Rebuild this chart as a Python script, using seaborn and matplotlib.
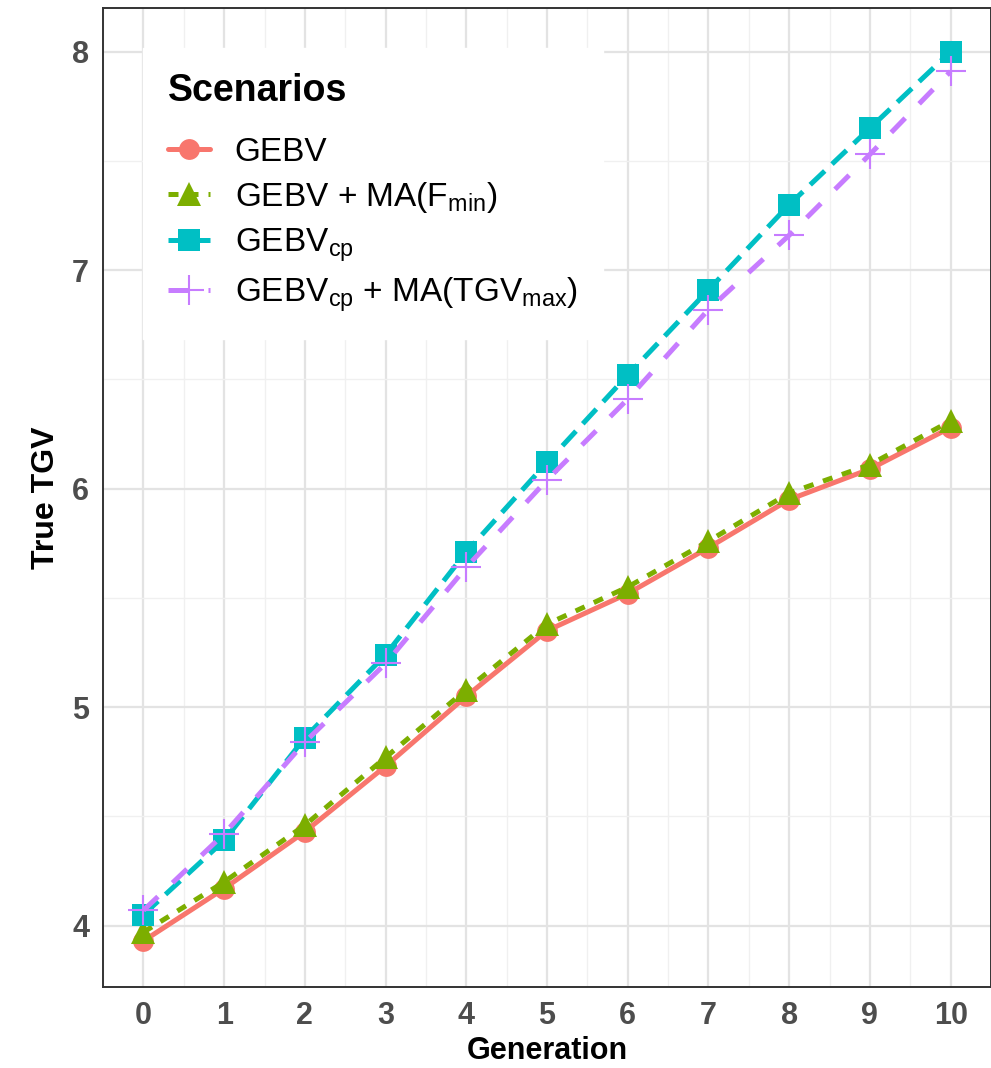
import numpy as np
import pandas as pd
import matplotlib
matplotlib.use("Agg")
import matplotlib.pyplot as plt
from matplotlib.lines import Line2D
from matplotlib.ticker import MultipleLocator
import seaborn as sns

# ==================== Data ====================
generation = list(range(11))
gebv = [3.93, 4.17, 4.43, 4.73, 5.05, 5.35, 5.52, 5.73, 5.95, 6.09, 6.28]
gebv_ma_fmin = [3.97, 4.20, 4.46, 4.77, 5.08, 5.38, 5.55, 5.76, 5.98, 6.11, 6.31]
gebv_cp = [4.05, 4.39, 4.86, 5.24, 5.71, 6.12, 6.52, 6.91, 7.30, 7.65, 8.00]
gebv_cp_ma_tgv = [4.07, 4.42, 4.84, 5.20, 5.64, 6.04, 6.41, 6.82, 7.16, 7.53, 7.91]

scenario_labels = [
    "GEBV",
    r"GEBV + MA(F$_{\mathrm{min}}$)",
    r"GEBV$_{\mathrm{cp}}$",
    r"GEBV$_{\mathrm{cp}}$ + MA(TGV$_{\mathrm{max}}$)",
]
series = [gebv, gebv_ma_fmin, gebv_cp, gebv_cp_ma_tgv]

# ==================== Style ====================
sns.set_style("white")
plt.rcParams.update({
    "font.family": ["Liberation Sans", "DejaVu Sans"],
    "mathtext.fontset": "custom",
    "mathtext.rm": "Liberation Sans",
    "mathtext.it": "Liberation Sans:italic",
    "mathtext.bf": "Liberation Sans:bold",
    "text.color": "black",
    "axes.labelcolor": "black",
})

colors = ["#F8766D", "#7CAE00", "#00BFC4", "#C77CFF"]
markers = ["o", "^", "s", "+"]
msizes = [15, 17, 16, 22]
linestyles = ["-", (0, (2, 2)), (0, (4, 2)), (0, (4, 4))]

fig = plt.figure(figsize=(9.91, 10.68), dpi=100)
ax = fig.add_axes([0.104, 0.076, 0.896, 0.9165])

for vals, col, mk, ms, ls in zip(series, colors, markers, msizes, linestyles):
    df = pd.DataFrame({"Generation": generation, "TGV": vals})
    sns.lineplot(data=df, x="Generation", y="TGV", ax=ax, color=col,
                 linestyle=ls, linewidth=3.6, marker=mk, markersize=ms,
                 markeredgewidth=1.5 if mk == "+" else 0, markeredgecolor=col,
                 zorder=3)

ax.set_xlim(-0.5, 10.5)
ax.set_ylim(3.72, 8.2)
ax.set_xticks(generation)
ax.set_yticks([4, 5, 6, 7, 8])
ax.xaxis.set_minor_locator(MultipleLocator(0.5))
ax.yaxis.set_minor_locator(MultipleLocator(0.5))
ax.grid(True, which="major", color="#E3E3E3", linewidth=1.6, zorder=0)
ax.grid(True, which="minor", color="#F0F0F0", linewidth=1.0, zorder=0)
ax.set_axisbelow(True)

for sp in ax.spines.values():
    sp.set_color("#333333")
    sp.set_linewidth(1.4)

ax.tick_params(axis="both", which="major", length=6, width=1.4, color="#333333",
               labelsize=22, labelcolor="#4D4D4D", pad=4)
ax.tick_params(axis="both", which="minor", length=0)
for lab in ax.get_xticklabels() + ax.get_yticklabels():
    lab.set_fontweight("bold")

ax.set_xlabel("Generation", fontsize=22, fontweight="bold", labelpad=4)
ax.set_ylabel("True TGV", fontsize=23, fontweight="bold", labelpad=8)

handles = [
    Line2D([0], [0], color=c, linestyle=ls, linewidth=3.6, marker=mk,
           markersize=ms, markeredgewidth=1.5 if mk == "+" else 0,
           markeredgecolor=c)
    for c, mk, ms, ls in zip(colors, markers, msizes, linestyles)
]
leg = ax.legend(handles, scenario_labels, title="Scenarios", loc="upper left",
                bbox_to_anchor=(0.045, 0.959), borderaxespad=0,
                fontsize=24, title_fontsize=27,
                frameon=True, fancybox=False, framealpha=1, edgecolor="white",
                handlelength=1.25, handletextpad=0.75, labelspacing=0.35,
                borderpad=0.75)
leg.get_title().set_fontweight("bold")
leg._legend_box.align = "left"
leg._legend_box.sep = 20

fig.savefig("out.png", dpi=100)
